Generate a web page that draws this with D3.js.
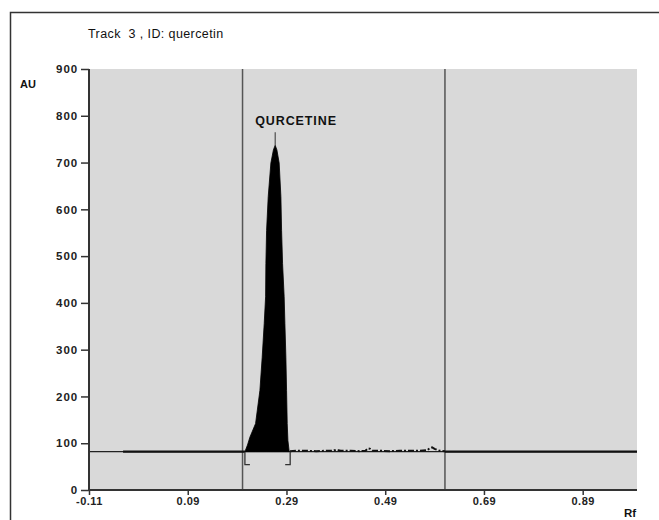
<!DOCTYPE html>
<html>
<head>
<meta charset="utf-8">
<script src="https://cdn.jsdelivr.net/npm/d3@7"></script>
<style>
  html, body { margin: 0; padding: 0; background: #fff; }
  svg { display: block; font-family: Arial, "Liberation Sans", sans-serif; }
</style>
</head>
<body>
<svg id="chart" width="659" height="520"></svg>
<script>
// ---- data ----
const titleText = "Track  3 , ID: quercetin";
const yLabel = "AU";
const xLabel = "Rf";
const peakLabel = "QURCETINE";
const xTicks = [-0.11, 0.09, 0.29, 0.49, 0.69, 0.89];
const yTicks = [0, 100, 200, 300, 400, 500, 600, 700, 800, 900];
const trackLimits = [0.201, 0.611];
const baselineAu = 82;
const peakRf = [0.2058, 0.2110, 0.2159, 0.2274, 0.2362, 0.2408, 0.2449, 0.2477, 0.2483, 0.2497, 0.2530, 0.2584, 0.2635, 0.2671,
                0.2706, 0.2752, 0.2787, 0.2801, 0.2821, 0.2853, 0.2868, 0.2888, 0.2902, 0.2915, 0.2929, 0.2955];
const peakAu = [82, 96, 113, 142, 213, 284, 356, 413, 484, 555, 627, 699, 727, 737,
                727, 699, 627, 555, 484, 413, 356, 284, 213, 142, 106, 82];
const peakBounds = [0.2058, 0.2975];
const leftSignalRf = [-0.041, 0.2058];
const rightSignalRf = [0.611, 1.0];
const noiseRf = [0.297, 0.31, 0.33, 0.35, 0.37, 0.385, 0.39, 0.395, 0.40, 0.42, 0.44, 0.45, 0.455, 0.46, 0.465,
                 0.48, 0.50, 0.52, 0.54, 0.56, 0.575, 0.58, 0.585, 0.59, 0.60, 0.611];
const noiseAu = [83, 84, 84, 83, 84, 84, 86, 85, 84, 84, 83, 84, 89, 88, 84,
                 84, 83, 84, 84, 84, 85, 89, 91, 88, 84, 83];

// ---- layout ----
const svg = d3.select("#chart");
const W = 659, H = 520;
const plot = { left: 89, right: 637, top: 69, bottom: 490 };

const x = d3.scaleLinear().domain([-0.11, 1.0]).range([plot.left, plot.right]);
const y = d3.scaleLinear().domain([0, 900]).range([plot.bottom, plot.top]);

// outer frame (top & left)
svg.append("path")
  .attr("d", `M10.5,${H} L10.5,12.5 L${W},12.5`)
  .attr("fill", "none").attr("stroke", "#333").attr("stroke-width", 1.5);

// plot background
svg.append("rect")
  .attr("x", plot.left).attr("y", plot.top)
  .attr("width", plot.right - plot.left).attr("height", plot.bottom - plot.top)
  .attr("fill", "#d9d9d9");

// title
svg.append("text").attr("x", 88).attr("y", 38)
  .attr("font-size", 12.5).attr("fill", "#111")
  .style("letter-spacing", "0.4px")
  .attr("xml:space", "preserve").style("white-space", "pre")
  .text(titleText);

// track limit vertical lines
svg.selectAll("line.limit").data(trackLimits).enter().append("line")
  .attr("class", "limit")
  .attr("x1", d => x(d)).attr("x2", d => x(d))
  .attr("y1", plot.top).attr("y2", plot.bottom)
  .attr("stroke", "#555").attr("stroke-width", 1.5);

// baseline
svg.append("line")
  .attr("x1", x(-0.11)).attr("x2", x(1.0))
  .attr("y1", y(baselineAu)).attr("y2", y(baselineAu))
  .attr("stroke", "#222").attr("stroke-width", 1.2);

const line = d3.line().x(d => x(d[0])).y(d => y(d[1]));

// signal segments (flat)
[leftSignalRf, rightSignalRf].forEach(seg => {
  svg.append("path")
    .attr("d", line(seg.map(r => [r, baselineAu])))
    .attr("fill", "none").attr("stroke", "#111").attr("stroke-width", 2.4);
});

// noise region (dashed)
svg.append("path")
  .attr("d", line(noiseRf.map((r, i) => [r, noiseAu[i]])))
  .attr("fill", "none").attr("stroke", "#111").attr("stroke-width", 2)
  .attr("stroke-dasharray", "6,2,2,2");

// peak (filled)
const area = d3.area()
  .x(d => x(d[0])).y0(y(baselineAu)).y1(d => y(d[1]));
svg.append("path")
  .attr("d", area(peakRf.map((r, i) => [r, peakAu[i]])))
  .attr("fill", "#000").attr("stroke", "#000").attr("stroke-width", 0.8);

// integration brackets
svg.append("path")
  .attr("d", `M${x(peakBounds[0]) + 5},${y(baselineAu) + 13} h-5 v-13`)
  .attr("fill", "none").attr("stroke", "#333").attr("stroke-width", 1.3);
svg.append("path")
  .attr("d", `M${x(peakBounds[1]) - 5},${y(baselineAu) + 13} h5 v-13`)
  .attr("fill", "none").attr("stroke", "#333").attr("stroke-width", 1.3);

// peak label
const apexIdx = peakAu.indexOf(d3.max(peakAu));
const apexX = x(peakRf[apexIdx]);
svg.append("line")
  .attr("x1", apexX).attr("x2", apexX)
  .attr("y1", y(peakAu[apexIdx])).attr("y2", y(peakAu[apexIdx]) - 13)
  .attr("stroke", "#333").attr("stroke-width", 1);
svg.append("text").attr("x", apexX - 20).attr("y", 124.5)
  .attr("font-size", 12.5).attr("font-weight", "bold").attr("fill", "#111")
  .style("letter-spacing", "0.9px")
  .text(peakLabel);

// axes
const fmtX = d => d3.format(".2f")(d).replace("\u2212", "-");
const yAxis = d3.axisLeft(y).tickValues(yTicks).tickSize(8).tickPadding(3).tickFormat(d3.format("d"));
const gy = svg.append("g").attr("transform", `translate(${plot.left},0)`).call(yAxis);
gy.select(".domain").attr("stroke", "#333").attr("stroke-width", 2).attr("d", `M0,${plot.bottom + 1}V${plot.top}`);
gy.selectAll(".tick line").attr("stroke", "#333").attr("stroke-width", 1.5);
gy.selectAll(".tick text").attr("font-size", 11.5).attr("font-weight", "bold")
  .attr("fill", "#222").style("letter-spacing", "0.9px")
  .attr("font-family", "Arial, 'Liberation Sans', sans-serif");

const xAxis = d3.axisBottom(x).tickValues(xTicks).tickSize(5).tickPadding(2).tickFormat(fmtX);
const gx = svg.append("g").attr("transform", `translate(0,${plot.bottom})`).call(xAxis);
gx.select(".domain").attr("stroke", "#333").attr("stroke-width", 2).attr("d", `M${plot.left - 1},0H${plot.right}`);
gx.selectAll(".tick line").attr("stroke", "#333").attr("stroke-width", 1.5);
gx.selectAll(".tick text").attr("font-size", 11).attr("font-weight", "bold")
  .attr("fill", "#222").style("letter-spacing", "0.5px")
  .attr("font-family", "Arial, 'Liberation Sans', sans-serif");

// axis titles
svg.append("text").attr("x", 20).attr("y", 88)
  .attr("font-size", 11).attr("font-weight", "bold").attr("fill", "#111").text(yLabel);
svg.append("text").attr("x", 624).attr("y", 517)
  .attr("font-size", 11.5).attr("font-weight", "bold").attr("fill", "#111").text(xLabel);
</script>
</body>
</html>
